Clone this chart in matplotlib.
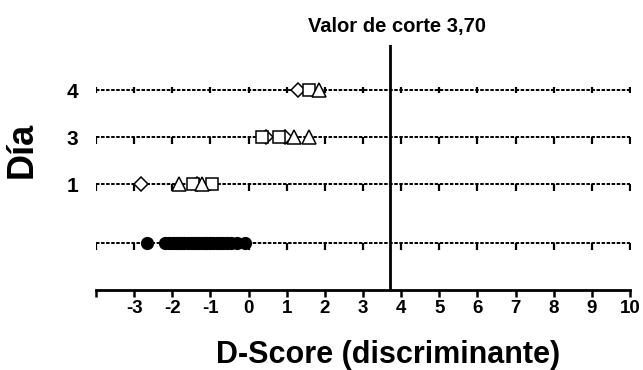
"""
D-Score strip chart per day, with the 3.70 cut-off line.
"""

import matplotlib
matplotlib.use("Agg")
import matplotlib.pyplot as plt
from matplotlib.lines import TICKDOWN

plt.rcParams["font.family"] = ["Liberation Sans", "DejaVu Sans"]
plt.rcParams["font.weight"] = "bold"

# --- Data ---
day_labels = ["", "1", "3", "4"]          # bottom row has no label
cutoff = 3.70

# baseline row: filled circles
baseline_scores = [-2.66, -2.18, -2.08, -1.98, -1.90, -1.82, -1.75, -1.68,
                   -1.60, -1.52, -1.45, -1.38, -1.30, -1.22, -1.15, -1.08,
                   -1.00, -0.92, -0.84, -0.75, -0.66, -0.56, -0.45, -0.30,
                   -0.10]

# open symbols per day (diamond / square / triangle)
day1_diamond = [-2.81, -1.34]
day1_square = [-1.46, -0.96]
day1_triangle = [-1.82, -1.22]

day3_diamond = [0.45, 0.95]
day3_square = [0.35, 0.79]
day3_triangle = [1.19, 1.59]

day4_diamond = [1.30]
day4_square = [1.59]
day4_triangle = [1.84]

x_ticks = list(range(-4, 11))
x_ticklabels = [""] + [str(v) for v in range(-3, 11)]

# vertical placement of rows (layout only)
row_y = [1.0, 2.25, 3.25, 4.25]

fig = plt.figure(figsize=(6.43, 3.70), dpi=100)
ax = fig.add_axes([96 / 643, 1 - 290 / 370, 534 / 643, 245 / 370])

# --- dashed row lines with small integer tick marks ---
for i, y in enumerate(row_y):
    ax.plot([x_ticks[0], x_ticks[-1]], [y, y], color="black",
            linewidth=1.4, linestyle=(0, (1.8, 0.8)), zorder=1)
    tick_marker = "|" if i == 3 else TICKDOWN
    ax.plot(x_ticks, [y] * len(x_ticks), linestyle="none",
            marker=tick_marker, markersize=5, markeredgewidth=1.6,
            color="black", zorder=1)

# --- points ---
open_style = dict(linestyle="none", markerfacecolor="white",
                  markeredgecolor="black", markeredgewidth=1.1, zorder=3)

ax.plot(baseline_scores, [row_y[0]] * len(baseline_scores), "o",
        color="black", markersize=8.5, zorder=3)

rows = [
    (row_y[1], day1_diamond, day1_square, day1_triangle),
    (row_y[2], day3_diamond, day3_square, day3_triangle),
    (row_y[3], day4_diamond, day4_square, day4_triangle),
]
for y, dia, sq, tri in rows:
    ax.plot(dia, [y] * len(dia), marker="D", markersize=6.8, **open_style)
    ax.plot(sq, [y] * len(sq), marker="s", markersize=8.3, **open_style)
    ax.plot(tri, [y] * len(tri), marker="^", markersize=9.5, **open_style)

# --- cut-off line ---
ax.axvline(cutoff, color="black", linewidth=2, zorder=2)

# --- axes setup ---
ax.set_xlim(-4, 10)
ax.set_ylim(0, 5.21)
ax.set_xticks(x_ticks)
ax.set_xticklabels(x_ticklabels, fontsize=13.5, fontweight="bold")
ax.set_yticks(row_y)
ax.set_yticklabels(day_labels, fontsize=15, fontweight="bold")
ax.tick_params(axis="x", direction="out", length=5, width=1.8, pad=2)
ax.tick_params(axis="y", length=0, pad=13)
for side in ("top", "right", "left"):
    ax.spines[side].set_visible(False)
ax.spines["bottom"].set_linewidth(2)

# --- texts ---
fig.text(397 / 643, 1 - 32 / 370, "Valor de corte 3,70", ha="center",
         va="baseline", fontsize=14.5, fontweight="bold")
fig.text(22 / 643, 1 - 150 / 370, "Día", rotation=90, ha="center",
         va="center", fontsize=26, fontweight="bold")
fig.text(388 / 643, 7 / 370, "D-Score (discriminante)", ha="center",
         va="baseline", fontsize=22, fontweight="bold")

fig.savefig("out.png", dpi=100)
